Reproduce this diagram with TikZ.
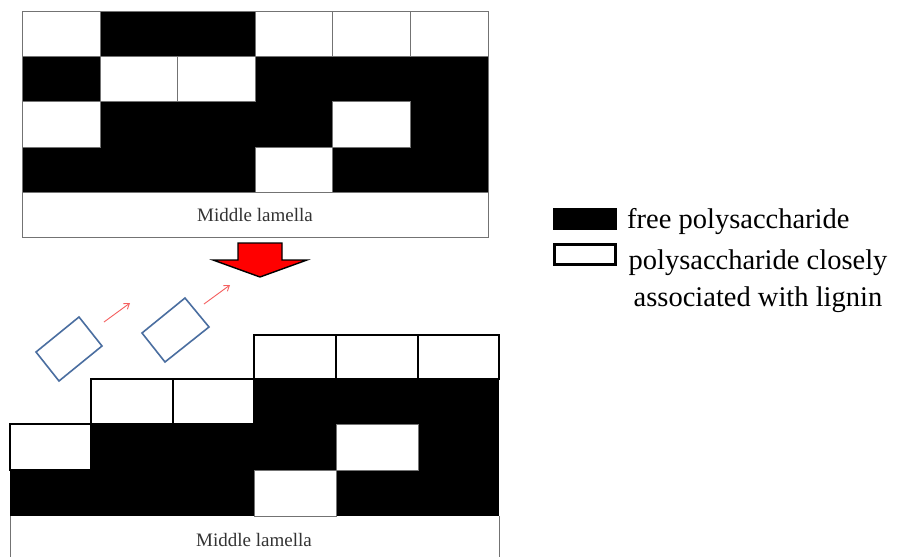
\documentclass[tikz,border=0pt]{standalone}
\usepackage{fontspec}
\setmainfont{Liberation Serif}
\usetikzlibrary{arrows.meta}
\definecolor{tiltblue}{RGB}{74,110,160}
\definecolor{thinred}{RGB}{245,95,95}
\tikzset{
  wcell/.style={fill=white, draw=black!55, line width=0.8pt},
  tcell/.style={fill=white, draw=black, line width=2.8pt},
  blk/.style={fill=black},
  tilt/.style={draw=tiltblue, line width=1.6pt},
  smallarrow/.style={draw=thinred, line width=0.9pt, -{Straight Barb[length=5pt,width=7pt]}},
  lamtext/.style={font=\fontsize{19}{23}\selectfont, text=black!80},
  legtext/.style={font=\fontsize{28.5}{37}\selectfont}
}
\begin{document}
\begin{tikzpicture}[x=1pt,y=-1pt]
\useasboundingbox[fill=white] (0,0) rectangle (906,557);

% ---------- top grid ----------
\fill[blk] (22,56) rectangle (488,192);
\fill[blk] (100,11) rectangle (255,56);
\path[wcell] (22,11) rectangle (100,56);
\path[wcell] (255,11) rectangle (332,56);
\path[wcell] (332,11) rectangle (410,56);
\path[wcell] (410,11) rectangle (488,56);
\path[wcell] (100,56) rectangle (177,101);
\path[wcell] (177,56) rectangle (255,101);
\path[wcell] (22,101) rectangle (100,147);
\path[wcell] (332,101) rectangle (410,147);
\path[wcell] (255,147) rectangle (332,192);
\path[wcell] (22,192) rectangle (488,237);
\draw[black!55, line width=0.8pt] (22,11) rectangle (488,237);
\node[lamtext] (lamtop) at (255,215) {Middle lamella};

% ---------- big red arrow ----------
\filldraw[fill=red, draw=black, line width=1.4pt, line join=miter]
  (238,243) -- (282,243) -- (282,260) -- (307,260) -- (260,277) -- (213,260) -- (238,260) -- cycle;

% ---------- released tilted blocks ----------
\draw[tilt] (36,352) -- (79,317) -- (102,346) -- (59,381) -- cycle;
\draw[tilt] (142,333) -- (185,298) -- (209,327) -- (165,362) -- cycle;
\coordinate (a1s) at (104,322); \coordinate (a1e) at (130,303);
\coordinate (a2s) at (204,304); \coordinate (a2e) at (230,285);
\draw[smallarrow] (a1s) -- (a1e);
\draw[smallarrow] (a2s) -- (a2e);

% ---------- bottom grid ----------
\fill[blk] (10,470) rectangle (499,516);
\fill[blk] (91,424) rectangle (499,470);
\fill[blk] (254,379) rectangle (499,424);
\path[wcell] (336,424) rectangle (418,470);
\path[wcell] (254,470) rectangle (336,516);
\path[tcell] (254,335) rectangle (336,379);
\path[tcell] (336,335) rectangle (418,379);
\path[tcell] (418,335) rectangle (499,379);
\path[tcell] (91,379) rectangle (173,424);
\path[tcell] (173,379) rectangle (254,424);
\path[tcell] (10,424) rectangle (91,470);
\draw[black!55, line width=0.8pt] (10,516) -- (10,557);
\draw[black!55, line width=0.8pt] (499,516) -- (499,557);
\node[lamtext] (lambot) at (254,540) {Middle lamella};

% ---------- legend ----------
\fill[blk] (553,208) rectangle (617,230);
\path[tcell, line width=3pt] (554.5,244) rectangle (615.5,264);
\node[legtext, anchor=west, inner sep=0pt] (legfree) at (627,222) {free polysaccharide};
\node[legtext, align=center, inner sep=0pt] (legbound) at (758,281) {polysaccharide closely\\associated with lignin};
\end{tikzpicture}
\end{document}
